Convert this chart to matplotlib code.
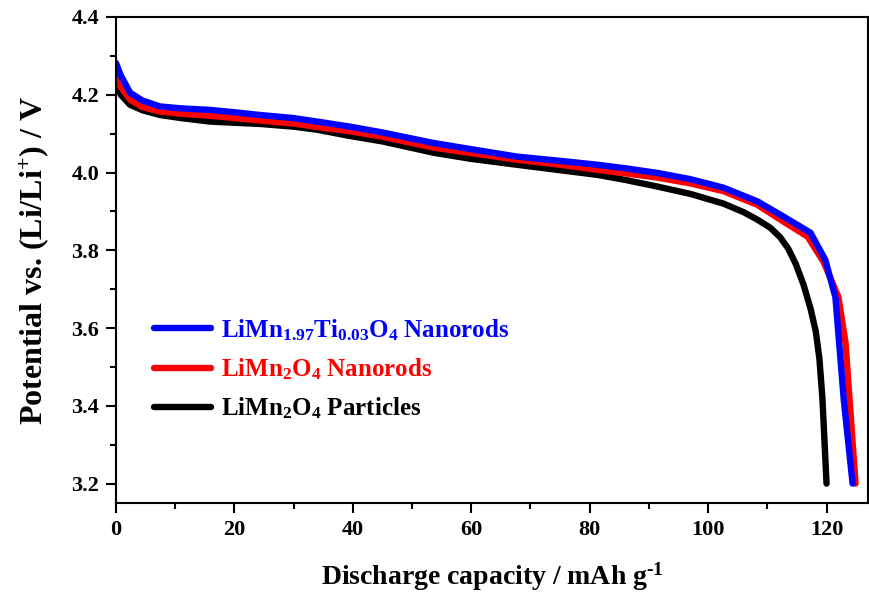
import matplotlib.pyplot as plt
from matplotlib.ticker import MultipleLocator

# LiMn1.97Ti0.03O4 nanorods
cap_ti = [0, 0.8, 2.4, 4.5, 7.4, 11, 15.9, 20, 24.3, 30, 34, 39.5, 45, 53.6, 60, 67.7,
          75, 81.3, 86, 91.4, 97, 102.6, 108.3, 112.7, 117.3, 119.8, 121.5, 122.9, 124.4]
volt_ti = [4.282, 4.25, 4.205, 4.185, 4.17, 4.165, 4.161, 4.155, 4.148, 4.14, 4.131, 4.118, 4.103,
           4.076, 4.06, 4.041, 4.03, 4.02, 4.011, 3.999, 3.983, 3.961, 3.926, 3.887, 3.845,
           3.775, 3.679, 3.417, 3.2]

# LiMn2O4 nanorods
cap_nr = [0, 0.8, 2.4, 4.5, 7.4, 11, 15.9, 20, 24.3, 30, 34, 39.5, 45, 53.6, 60, 67.7,
          75, 81.3, 86, 91.4, 97, 102.6, 108.3, 112.7, 116.8, 119.5, 122.0, 123.2, 124.9]
volt_nr = [4.256, 4.22, 4.187, 4.168, 4.157, 4.151, 4.146, 4.14, 4.134, 4.126, 4.117, 4.106, 4.092,
           4.064, 4.05, 4.033, 4.02, 4.007, 3.998, 3.987, 3.972, 3.952, 3.917, 3.874, 3.835,
           3.77, 3.68, 3.563, 3.2]

# LiMn2O4 particles
cap_pt = [0, 0.8, 2.4, 4.5, 7.4, 11, 15.9, 20, 24.3, 30, 34, 39.5, 45, 53.6, 60, 67.7,
          75, 81.3, 86, 91.4, 97, 102.6, 106, 108.3, 110.5, 112.2, 113.5, 114.8, 116.1, 117.3,
          118.2, 118.8, 119.3, 120.0]
volt_pt = [4.236, 4.2, 4.174, 4.16, 4.148, 4.14, 4.131, 4.128, 4.125, 4.118, 4.11, 4.094, 4.08,
           4.051, 4.035, 4.02, 4.006, 3.994, 3.981, 3.964, 3.945, 3.92, 3.898, 3.879, 3.858,
           3.833, 3.805, 3.765, 3.712, 3.65, 3.59, 3.52, 3.42, 3.2]

series = [
    (cap_ti, volt_ti, "#0000ff", r"LiMn$_{\mathbf{1.97}}$Ti$_{\mathbf{0.03}}$O$_{\mathbf{4}}$ Nanorods"),
    (cap_nr, volt_nr, "#ff0000", r"LiMn$_{\mathbf{2}}$O$_{\mathbf{4}}$ Nanorods"),
    (cap_pt, volt_pt, "#000000", r"LiMn$_{\mathbf{2}}$O$_{\mathbf{4}}$ Particles"),
]

plt.rcParams["font.family"] = ["Liberation Serif", "DejaVu Serif"]
plt.rcParams["font.weight"] = "bold"
plt.rcParams["mathtext.fontset"] = "custom"
plt.rcParams["mathtext.rm"] = "Liberation Serif:bold"
plt.rcParams["mathtext.bf"] = "Liberation Serif:bold"
plt.rcParams["mathtext.it"] = "Liberation Serif:bold"

fig = plt.figure(figsize=(8.7, 5.96), dpi=100)
ax = fig.add_axes([0.1333, 0.156, 0.8644, 0.8155])

# black first so blue ends up on top
for cap, volt, color, label in reversed(series):
    ax.plot(cap, volt, color=color, lw=4.6, solid_capstyle="round", solid_joinstyle="round", label=label)

ax.set_xlim(0, 127)
ax.set_ylim(3.15, 4.4)
ax.xaxis.set_major_locator(MultipleLocator(20))
ax.xaxis.set_minor_locator(MultipleLocator(10))
ax.yaxis.set_major_locator(MultipleLocator(0.2))
ax.yaxis.set_minor_locator(MultipleLocator(0.1))
ax.yaxis.set_major_formatter(plt.FormatStrFormatter("%.1f"))

ax.tick_params(which="both", direction="out", width=1.5, top=False, right=False)
ax.tick_params(which="major", length=7, labelsize=16, pad=5)
ax.tick_params(which="minor", length=4)
for sp in ax.spines.values():
    sp.set_linewidth(1.5)

ax.set_xlabel(r"Discharge capacity / mAh g$^{\text{-}\mathbf{1}}$", fontsize=20, fontweight="bold", labelpad=15)
ax.set_ylabel(r"Potential vs. (Li/Li$^{\mathbf{+}}$) / V", fontsize=23, fontweight="bold", labelpad=15)

handles, labels = ax.get_legend_handles_labels()
leg = ax.legend(handles[::-1], labels[::-1], loc="lower left", bbox_to_anchor=(0.02, 0.122),
                frameon=False, handlelength=2.3, handletextpad=0.4, labelspacing=0.55,
                prop={"weight": "bold", "size": 18})
for text, (_, _, color, _) in zip(leg.get_texts(), series):
    text.set_color(color)

fig.savefig("out.png", dpi=100)
